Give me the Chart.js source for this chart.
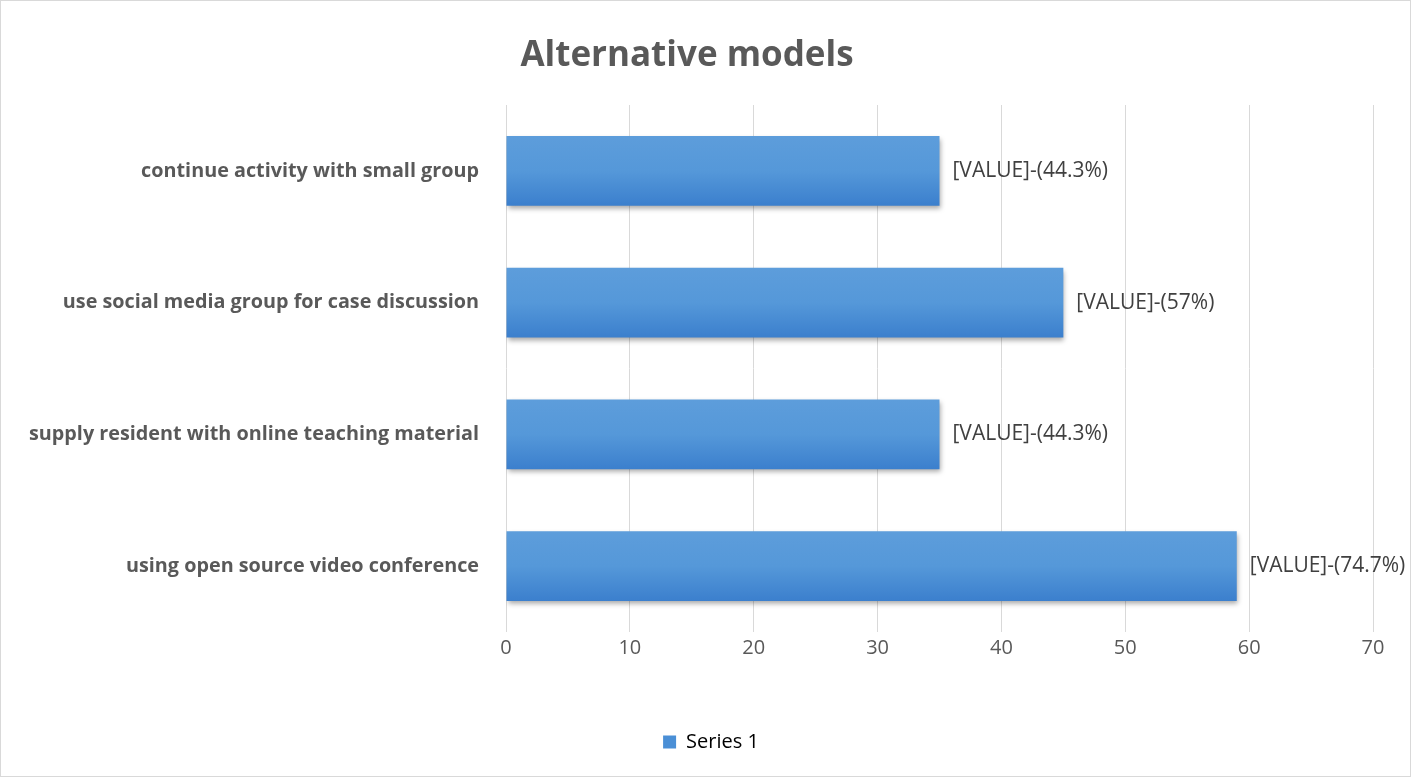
<!DOCTYPE html>
<html>
<head>
<meta charset="utf-8">
<script src="https://cdn.jsdelivr.net/npm/chart.js@4.4.0/dist/chart.umd.min.js"></script>
<style>
  body { margin: 0; background: #fff; }
  #wrap { width: 1411px; height: 777px; box-sizing: border-box; border: 1px solid #d9d9d9; }
</style>
</head>
<body>
<div id="wrap"><canvas id="chart" width="1409" height="775"></canvas></div>
<script>
// chart data
const categories = [
    'continue activity with small group',
    'use social media group for case discussion',
    'supply resident with online teaching material',
    'using open source video conference'
];
const seriesValues = [35, 45, 35, 59];
const valueLabels = ['[VALUE]-(44.3%)', '[VALUE]-(57%)', '[VALUE]-(44.3%)', '[VALUE]-(74.7%)'];
const xTicks = [0, 10, 20, 30, 40, 50, 60, 70];

const FONT = '"Open Sans", "Liberation Sans", sans-serif';

function barGradient(context) {
    const chart = context.chart;
    const area = chart.chartArea;
    if (!area || context.dataIndex === undefined) return '#5b9bd5';
    const y = chart.scales.y.getPixelForValue(context.dataIndex);
    const half = 35;
    const g = chart.ctx.createLinearGradient(0, y - half, 0, y + half);
    g.addColorStop(0, '#5d9ddb');
    g.addColorStop(0.5, '#5598d9');
    g.addColorStop(1, '#3b7fcd');
    return g;
}

// soft shadow under bars + value labels
const barExtras = {
    id: 'barExtras',
    afterLayout(chart) {
        // legend sits a bit right of centre in the original
        if (chart.legend) {
            chart.legend.left += 24;
            chart.legend.right += 24;
        }
    },
    beforeDatasetDraw(chart) {
        const ctx = chart.ctx;
        ctx.save();
        ctx.shadowColor = 'rgba(0,0,0,0.35)';
        ctx.shadowBlur = 5;
        ctx.shadowOffsetX = 1;
        ctx.shadowOffsetY = 3;
    },
    afterDatasetDraw(chart) {
        chart.ctx.restore();
    },
    afterDatasetsDraw(chart) {
        const ctx = chart.ctx;
        const meta = chart.getDatasetMeta(0);
        ctx.save();
        ctx.font = '21px ' + FONT;
        ctx.fillStyle = '#404040';
        ctx.textBaseline = 'middle';
        ctx.textAlign = 'left';
        meta.data.forEach(function (bar, i) {
            ctx.fillText(valueLabels[i], bar.x + 13, bar.y);
        });
        ctx.restore();
    }
};

const ctx = document.getElementById('chart');
new Chart(ctx, {
    type: 'bar',
    data: {
        labels: categories,
        datasets: [{
            label: 'Series 1',
            data: seriesValues,
            backgroundColor: barGradient,
            borderWidth: 0,
            barPercentage: 0.53,
            categoryPercentage: 1
        }]
    },
    options: {
        indexAxis: 'y',
        responsive: false,
        animation: false,
        layout: { padding: { left: 0, right: 37, top: 0, bottom: 14 } },
        scales: {
            x: {
                min: 0,
                max: 70,
                afterBuildTicks: function (scale) {
                    scale.ticks = xTicks.map(function (v) { return { value: v }; });
                },
                afterFit: function (scale) { scale.height = 96; },
                grid: { color: '#d9d9d9', drawTicks: false, lineWidth: 1 },
                border: { display: false },
                ticks: { color: '#595959', font: { family: FONT, size: 20 }, padding: 4 }
            },
            y: {
                afterFit: function (scale) { scale.width = 505; },
                grid: { display: false },
                border: { display: false },
                ticks: { color: '#595959', font: { family: FONT, size: 19.8, weight: 'bold' }, padding: 19 }
            }
        },
        plugins: {
            title: {
                display: true,
                text: 'Alternative models',
                color: '#595959',
                font: { family: FONT, size: 35, weight: 'bold' },
                padding: { top: 34, bottom: 28 }
            },
            legend: {
                position: 'bottom',
                labels: {
                    color: '#595959',
                    font: { family: FONT, size: 20 },
                    boxWidth: 13,
                    boxHeight: 13,
                    padding: 4,
                    generateLabels: function () {
                        return [{ text: 'Series 1', fillStyle: '#4a8fd6', strokeStyle: '#4a8fd6', lineWidth: 0 }];
                    }
                },
                padding: 0
            },
            tooltip: { enabled: false }
        }
    },
    plugins: [barExtras]
});
</script>
</body>
</html>
